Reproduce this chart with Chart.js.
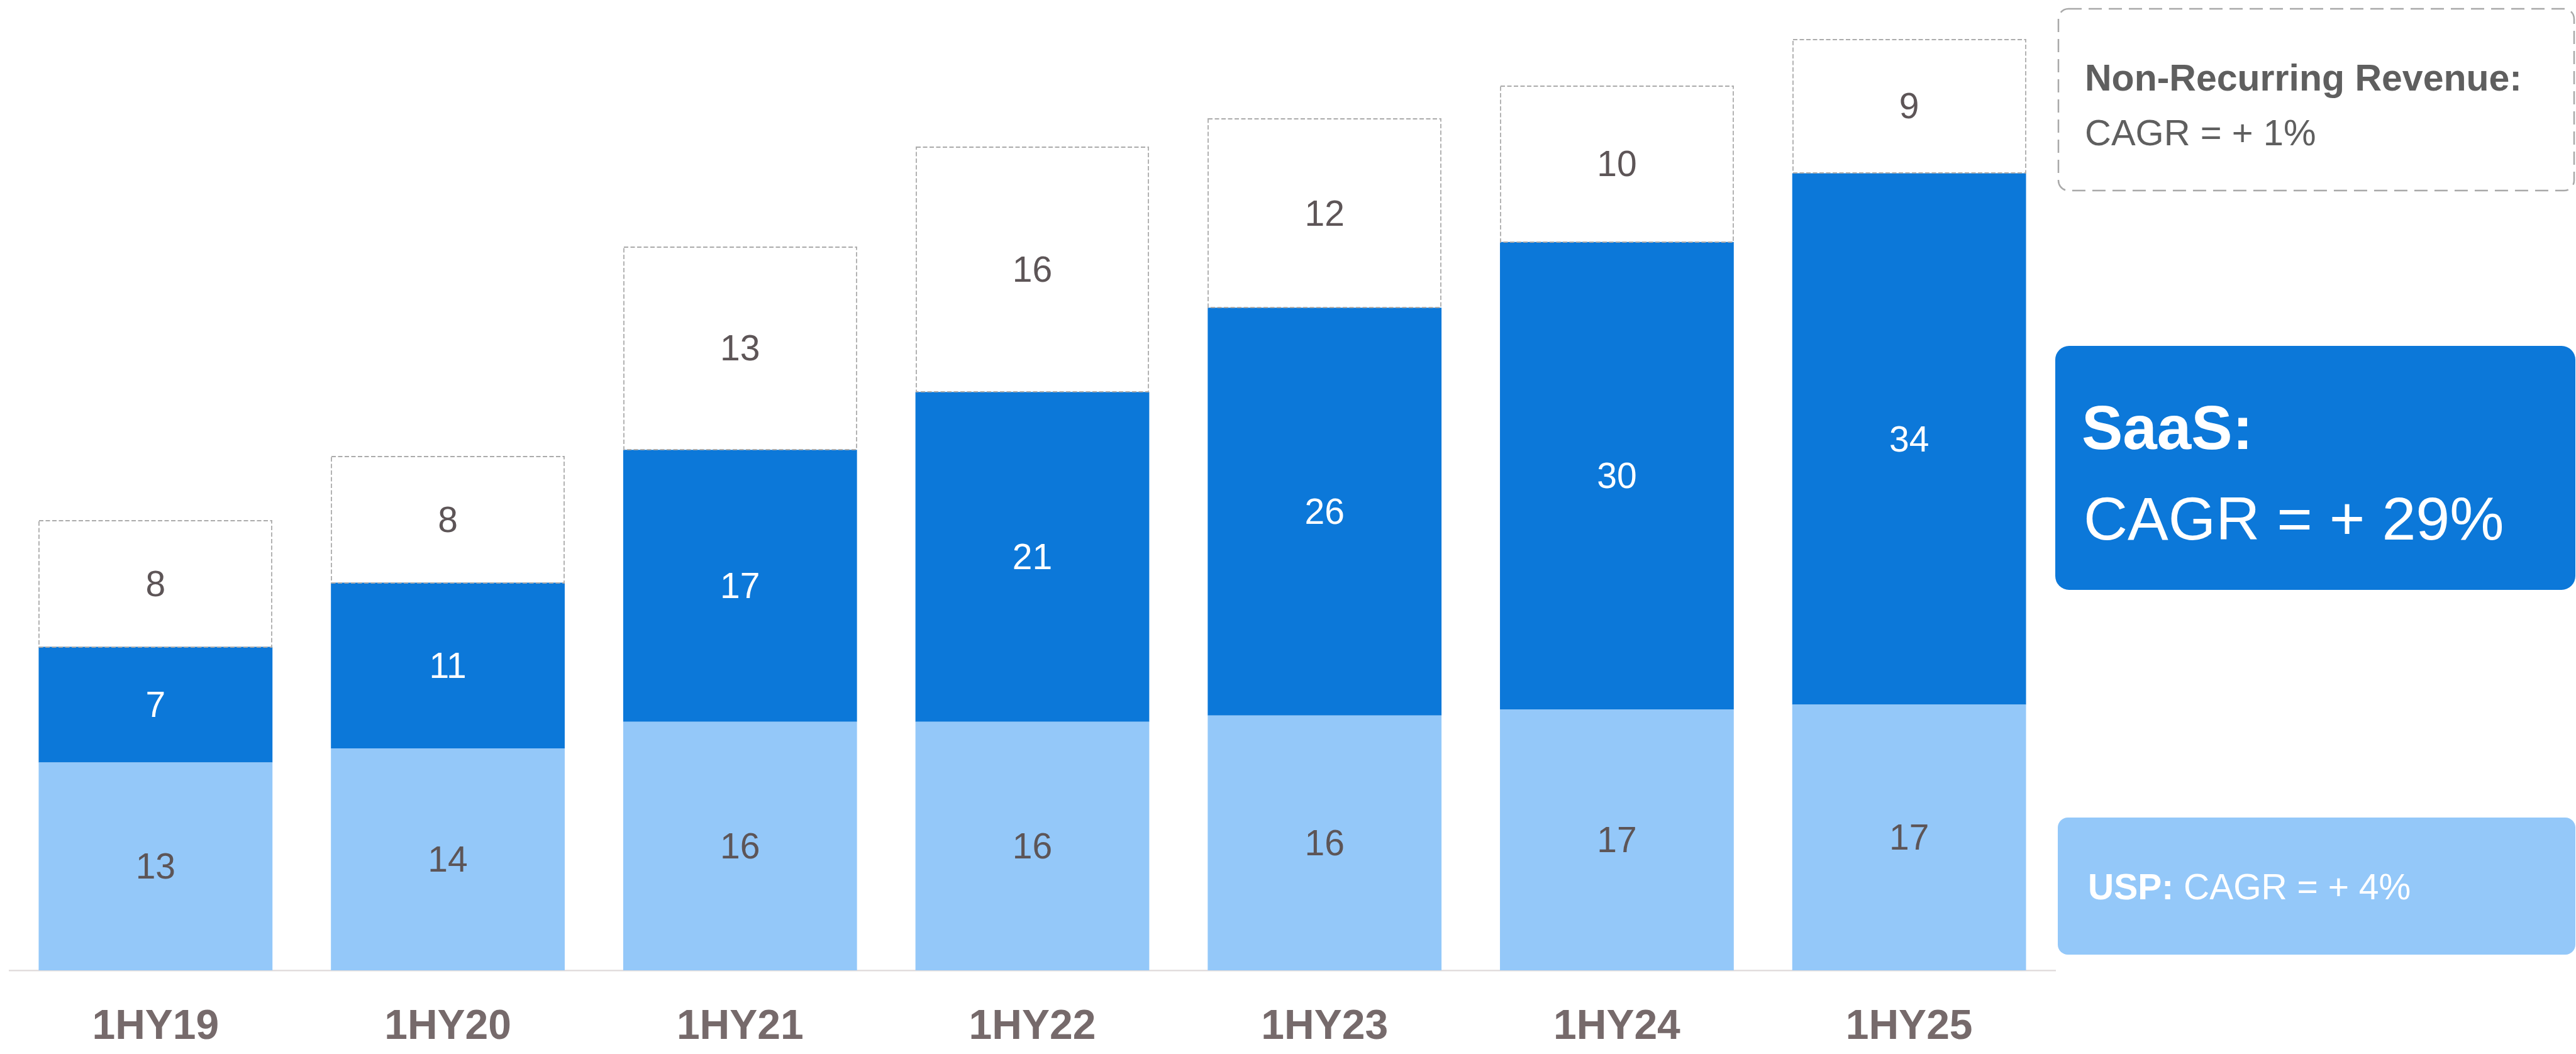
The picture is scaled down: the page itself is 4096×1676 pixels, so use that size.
<!DOCTYPE html>
<html>
<head>
<meta charset="utf-8">
<script src="https://cdn.jsdelivr.net/npm/chart.js@4.4.1/dist/chart.umd.min.js"></script>
<style>
html,body{margin:0;padding:0;background:#fff;overflow:hidden;}
#wrap{position:relative;width:4096px;height:1676px;}
#c{position:absolute;left:0;top:0;width:4096px;height:1676px;}
#side{position:absolute;left:0;top:0;}
#side text{font-family:"Liberation Sans", Arial, Helvetica, sans-serif;}
</style>
</head>
<body>
<div id="wrap">
<canvas id="c" width="4096" height="1676"></canvas>
<svg id="side" width="4096" height="1676" xmlns="http://www.w3.org/2000/svg">
  <rect x="3273" y="14" width="820" height="289" rx="16" ry="16" fill="none" stroke="#a9a9a9" stroke-width="2.5" stroke-dasharray="21 11"/>
  <text x="3315" y="144" font-size="59" font-weight="700" fill="#5f5f5f">Non-Recurring Revenue:</text>
  <text x="3315" y="231" font-size="58" font-weight="400" fill="#5f5f5f">CAGR = + 1%</text>
  <rect x="3268" y="550" width="827" height="388" rx="22" ry="22" fill="#0C78D9"/>
  <text x="3310" y="714" font-size="98" font-weight="700" fill="#ffffff">SaaS:</text>
  <text x="3313" y="858" font-size="97" font-weight="400" fill="#ffffff">CAGR = + 29%</text>
  <rect x="3272" y="1300" width="823" height="218" rx="16" ry="16" fill="#94C8F9"/>
  <text x="3320" y="1430" font-size="57" font-weight="400" fill="#ffffff"><tspan font-weight="700">USP:</tspan> CAGR = + 4%</text>
</svg>
</div>
<script>
// ---- data ----
const categories = ['1HY19', '1HY20', '1HY21', '1HY22', '1HY23', '1HY24', '1HY25'];
const uspValues  = [13.3, 14.2, 15.9, 15.9, 16.3, 16.7, 17.0];
const saasValues = [7.4, 10.6, 17.4, 21.1, 26.1, 29.9, 34.0];
const nrrValues  = [8.1, 8.1, 13.0, 15.7, 12.1, 10.0, 8.6];
const seriesNames = ['USP', 'SaaS', 'Non-Recurring Revenue'];

const segPlugin = {
  id: 'segPlugin',
  afterDatasetsDraw(chart) {
    const ctx = chart.ctx;
    // dashed outline of the non-recurring segments
    const nrrMeta = chart.getDatasetMeta(2);
    ctx.save();
    ctx.setLineDash([7, 3.5]);
    ctx.lineWidth = 1.8;
    ctx.strokeStyle = '#ababab';
    nrrMeta.data.forEach(el => {
      const p = el.getProps(['x', 'y', 'base', 'width'], true);
      const l = Math.round(p.x - p.width / 2) + 1;
      const r = Math.round(p.x + p.width / 2) - 1;
      const t = Math.round(p.y) + 1;
      const b = Math.round(p.base);
      ctx.strokeRect(l, t, r - l, b - t);
    });
    ctx.restore();
    // value labels
    ctx.save();
    ctx.font = '400 57px "Liberation Sans", Arial, sans-serif';
    ctx.textAlign = 'center';
    ctx.textBaseline = 'middle';
    chart.data.datasets.forEach((ds, i) => {
      const meta = chart.getDatasetMeta(i);
      ctx.fillStyle = i === 1 ? '#ffffff' : '#5d5557';
      meta.data.forEach((el, j) => {
        const p = el.getProps(['x', 'y', 'base'], true);
        ctx.fillText(String(Math.round(ds.data[j])), p.x, (p.y + p.base) / 2 + 4);
      });
    });
    ctx.restore();
  }
};

new Chart(document.getElementById('c'), {
  type: 'bar',
  data: {
    labels: categories,
    datasets: [
      { label: seriesNames[0], data: uspValues, backgroundColor: '#94C8F9', borderWidth: 0 },
      { label: seriesNames[1], data: saasValues, backgroundColor: '#0C78D9', borderWidth: 0 },
      { label: seriesNames[2], data: nrrValues, backgroundColor: 'rgba(255,255,255,0)', borderWidth: 0 }
    ]
  },
  options: {
    responsive: false,
    devicePixelRatio: 1,
    animation: false,
    layout: { padding: { left: 15, right: 828, top: 2, bottom: 0 } },
    datasets: { bar: { categoryPercentage: 0.8, barPercentage: 1.0 } },
    plugins: { legend: { display: false }, tooltip: { enabled: false } },
    scales: {
      x: {
        stacked: true,
        grid: { display: false },
        border: { display: true, color: '#e2dddd', width: 2.5 },
        ticks: {
          color: '#766a6b',
          padding: 43,
          font: { family: '"Liberation Sans", Arial, sans-serif', size: 66, weight: 'bold' }
        },
        afterFit(scale) { scale.height = 133; }
      },
      y: {
        stacked: true,
        display: false,
        min: 0,
        max: 62
      }
    }
  },
  plugins: [segPlugin]
});
</script>
</body>
</html>
